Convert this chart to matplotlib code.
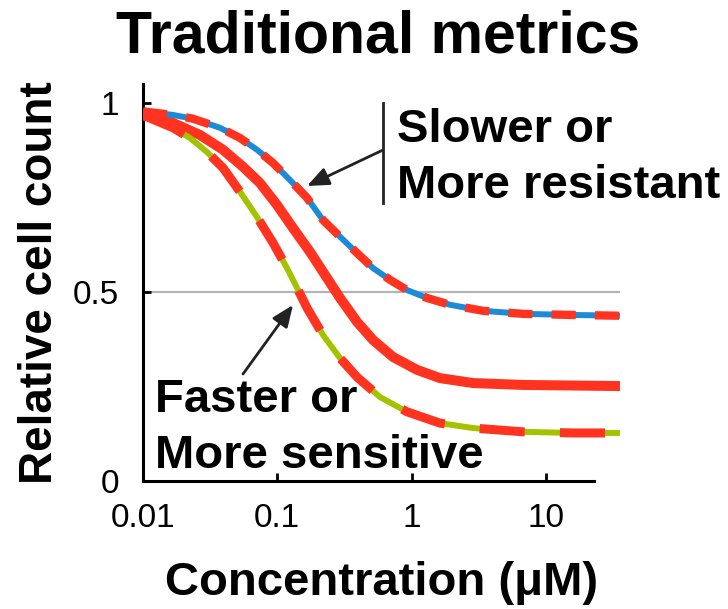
import numpy as np
import matplotlib
matplotlib.use("Agg")
import matplotlib.pyplot as plt

plt.rcParams['font.family'] = ['Liberation Sans', 'DejaVu Sans']

#Data: concentrations (uM) and relative cell counts for the three curves
conc_slow = [0.01, 0.01071, 0.01673, 0.02357, 0.03745, 0.05276, 0.07062, 0.0929, 0.1243, 0.1664, 0.219,
             0.2931, 0.3922, 0.5161, 0.6907, 0.9243, 1.302, 1.931, 3.401, 6.752, 15.91, 35.63]
count_slow = [0.978, 0.976, 0.968, 0.958, 0.934, 0.907, 0.876, 0.841, 0.796, 0.749, 0.690,
              0.646, 0.603, 0.563, 0.532, 0.505, 0.484, 0.466, 0.450, 0.442, 0.439, 0.437]

conc_mid = [0.01, 0.01071, 0.01673, 0.02657, 0.03943, 0.05554, 0.07432, 0.09949, 0.1309, 0.1752, 0.2345,
            0.2931, 0.3922, 0.5161, 0.7269, 1.097, 1.627, 2.866, 6.752, 35.63]
count_mid = [0.970, 0.968, 0.947, 0.915, 0.876, 0.831, 0.788, 0.730, 0.669, 0.606, 0.537,
             0.484, 0.421, 0.373, 0.328, 0.294, 0.272, 0.259, 0.254, 0.251]

conc_fast = [0.01, 0.01071, 0.01673, 0.02239, 0.02996, 0.03943, 0.05276, 0.07062, 0.0929, 0.1181, 0.1402,
             0.1664, 0.219, 0.2931, 0.3922, 0.5818, 0.9243, 1.627, 2.866, 6.752, 15.91, 35.63]
count_fast = [0.965, 0.963, 0.934, 0.907, 0.870, 0.828, 0.765, 0.698, 0.630, 0.563, 0.511,
              0.458, 0.386, 0.325, 0.275, 0.222, 0.183, 0.153, 0.140, 0.130, 0.127, 0.127]

xticks = [0.01, 0.1, 1, 10]
xticklabels = ["0.01", "0.1", "1", "10"]
yticks = [0, 0.5, 1]
yticklabels = ["0", "0.5", "1"]

red = '#ff3320'
blue = '#1c8ad4'
green = '#a4c200'
ink = '#222222'

fig = plt.figure(figsize=(7.28, 6.09), dpi=100)
ax = fig.add_axes([0.1964, 0.2102, 0.6552, 0.652])

#Reference line at half the cell count
ax.plot([0.01, 35.63], [0.5, 0.5], color='#b4b4b4', lw=1.6, zorder=1)

#Curves: solid red in the middle, dashed red over blue (top) and green (bottom)
ax.plot(conc_mid, count_mid, color=red, lw=7.2, solid_capstyle='butt', zorder=2)
ax.plot(conc_slow, count_slow, color=blue, lw=4.3, solid_capstyle='butt', zorder=3)
ax.plot(conc_slow, count_slow, color=red, lw=6.0, dashes=(2.9, 2.3), zorder=4)
ax.plot(conc_fast, count_fast, color=green, lw=4.3, solid_capstyle='butt', zorder=3)
ax.plot(conc_fast, count_fast, color=red, lw=6.5, dashes=(5.0, 3.9), zorder=4)

ax.set_xscale('log')
ax.set_xlim(0.01, 35.63)
ax.set_ylim(0, 1.05)
ax.minorticks_off()
ax.set_xticks(xticks)
ax.set_xticklabels(xticklabels)
ax.set_yticks(yticks)
ax.set_yticklabels(yticklabels)
ax.tick_params(direction='in', length=6, width=2, labelsize=24, pad=16)
ax.tick_params(axis='y', pad=17)

ax.spines['top'].set_visible(False)
ax.spines['right'].set_visible(False)
ax.spines['left'].set_linewidth(2.2)
ax.spines['bottom'].set_linewidth(2.2)
ax.spines['bottom'].set_bounds(0.01, 23)

ax.set_xlabel("Concentration (μM)", fontsize=34, fontweight='bold', labelpad=19)
ax.set_ylabel("Relative cell count", fontsize=33, fontweight='bold', labelpad=8)
fig.text(0.52, 0.94, "Traditional metrics", fontsize=42.5, fontweight='bold', ha='center', va='center')

#Annotations (positions in figure pixels, origin bottom-left)
H = 609
fig.text(397 / 728, (H - 142) / H, "Slower or", fontsize=34, fontweight='bold', va='baseline')
fig.text(397 / 728, (H - 198) / H, "More resistant", fontsize=34, fontweight='bold', va='baseline')
fig.add_artist(plt.Line2D([383 / 728, 383 / 728], [(H - 203) / H, (H - 103) / H], color=ink, lw=2))
ax.annotate("", xy=(307, H - 186), xytext=(383, H - 150), xycoords='figure pixels', textcoords='figure pixels',
            arrowprops=dict(arrowstyle='-|>,head_length=0.6,head_width=0.25', color=ink, lw=2,
                            mutation_scale=22, shrinkA=0, shrinkB=0))

fig.text(155 / 728, (H - 412) / H, "Faster or", fontsize=34, fontweight='bold', va='baseline')
fig.text(155 / 728, (H - 468) / H, "More sensitive", fontsize=34, fontweight='bold', va='baseline')
ax.annotate("", xy=(293, H - 305), xytext=(243, H - 374), xycoords='figure pixels', textcoords='figure pixels',
            arrowprops=dict(arrowstyle='-|>,head_length=0.6,head_width=0.25', color=ink, lw=2,
                            mutation_scale=22, shrinkA=0, shrinkB=0))

plt.savefig("out.png", dpi=100)
